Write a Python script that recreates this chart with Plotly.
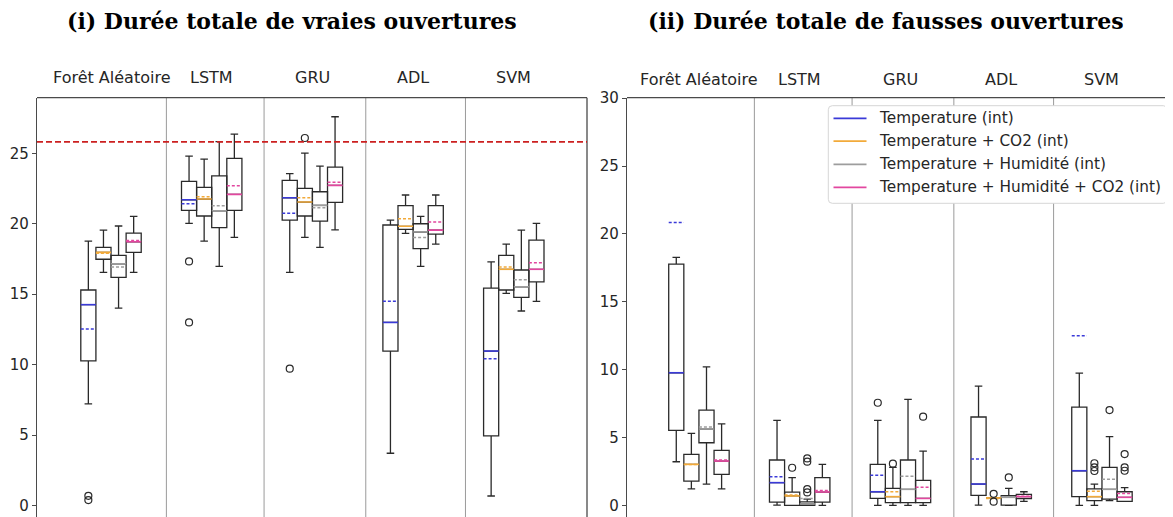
import plotly.graph_objects as go

# ---------------- data ----------------
models = ["Forêt Aléatoire", "LSTM", "GRU", "ADL", "SVM"]
series = ["Temperature (int)", "Temperature + CO2 (int)",
          "Temperature + Humidité (int)", "Temperature + Humidité + CO2 (int)"]
colors = ["#3a3ad8", "#f2aa3a", "#9d9d9d", "#e2479f"]

titles = ["(i) Durée totale de vraies ouvertures", "(ii) Durée totale de fausses ouvertures"]

# Panel (i): rows = models, columns = series
vraies_low = [[7.23, 16.55, 14.02, 16.55], [20.03, 18.77, 16.98, 19.03], [16.55, 19.03, 18.33, 19.57],
              [3.72, 19.32, 16.98, 18.56], [0.69, 15.06, 13.81, 14.5]]
vraies_q1 = [[10.28, 17.48, 16.2, 17.97], [20.95, 20.55, 19.72, 20.95], [20.26, 20.55, 20.19, 21.52],
             [10.97, 19.6, 18.23, 19.27], [4.96, 15.3, 14.78, 15.87]]
vraies_med = [[14.26, 17.97, 17.16, 18.72], [21.7, 21.75, 20.92, 22.08], [21.84, 21.54, 21.3, 22.72],
              [13.0, 19.82, 19.41, 19.55], [10.97, 16.77, 15.53, 16.77]]
vraies_mean = [[12.53, 17.9, 16.93, 18.82], [21.42, 21.92, 21.28, 22.7], [20.74, 21.84, 21.13, 22.94],
               [14.5, 20.35, 19.03, 20.12], [10.43, 16.93, 16.03, 17.23]]
vraies_q3 = [[15.3, 18.33, 17.76, 19.34], [23.0, 22.58, 23.4, 24.64], [23.08, 22.51, 22.27, 24.02],
             [19.91, 21.28, 20.0, 21.28], [15.44, 17.76, 16.72, 18.84]]
vraies_high = [[18.77, 19.55, 19.84, 20.52], [24.8, 24.59, 25.82, 26.36], [23.55, 25.01, 24.09, 27.59],
               [20.26, 22.04, 20.52, 22.04], [17.3, 18.56, 19.55, 20.03]]
vraies_out = [[[0.4, 0.7], [], [], []], [[17.33, 13.0], [], [], []], [[9.72], [26.08], [], []],
              [[], [], [], []], [[], [], [], []]]
vraies_reference = 25.8

# Panel (ii)
fausses_low = [[3.21, 1.22, 1.57, 1.22], [0.02, 0.0, 0.0, 0.0], [0.0, 0.0, 0.0, 0.0],
               [0.02, 0.55, 0.0, 0.29], [0.0, 0.0, 0.34, 0.29]]
fausses_q1 = [[5.52, 1.79, 4.61, 2.28], [0.24, 0.0, 0.0, 0.24], [0.51, 0.2, 0.2, 0.2],
              [0.74, 0.55, 0.02, 0.49], [0.64, 0.34, 0.46, 0.29]]
fausses_med = [[9.77, 3.02, 5.62, 3.26], [1.67, 0.69, 0.1, 0.98], [1.0, 0.64, 1.18, 0.51],
               [1.57, 0.55, 0.59, 0.64], [2.55, 0.64, 1.18, 0.59]]
fausses_mean = [[20.85, 3.0, 5.77, 3.34], [2.11, 0.76, 0.51, 1.1], [2.21, 1.0, 2.14, 1.33],
                [3.41, 0.5, 0.62, 0.66], [12.5, 1.03, 1.92, 0.88]]
fausses_q3 = [[17.78, 3.76, 7.02, 4.05], [3.34, 0.98, 0.25, 2.04], [3.02, 1.25, 3.34, 1.84],
              [6.51, 0.55, 0.71, 0.81], [7.24, 1.22, 2.8, 1.0]]
fausses_high = [[18.28, 5.3, 10.21, 6.01], [6.26, 2.04, 0.45, 3.02], [6.26, 2.8, 7.81, 4.0],
                [8.79, 0.55, 1.25, 1.0], [9.75, 1.57, 5.06, 1.3]]
fausses_out = [[[], [], [], []],
               [[], [2.77], [3.46, 3.22, 1.2, 0.95], []],
               [[7.56], [3.07], [], [6.53]],
               [[], [0.85, 0.27], [2.06], []],
               [[], [3.1, 2.8, 2.53], [7.02], [3.78, 2.8, 2.55]]]

y_ticks_left = [0, 5, 10, 15, 20, 25]
y_ticks_right = [0, 5, 10, 15, 20, 25, 30]

# ---------------- layout constants ----------------
OFF = 8                      # page body margin of the exported html
W, H = 1173 - OFF, 517 - OFF
BOX_W = 0.15
OFFSETS = [-0.225, -0.075, 0.075, 0.225]
DIVIDERS = [1.55, 2.52, 3.53, 4.52]
FRAME = "#4a4a4a"
TXT = "#262626"
TOP_PX = 97.7


def px(x):
    return (x - OFF) / W


def py(y):
    return 1 - (y - OFF) / H


fig = go.Figure()


def add_panel(xa, ya, low, q1, med, mean, q3, high, outs):
    for s in range(4):
        pos = [g + 1 + OFFSETS[s] for g in range(len(models))]
        fig.add_trace(go.Box(
            x=pos, q1=[r[s] for r in q1], median=[r[s] for r in med], q3=[r[s] for r in q3],
            lowerfence=[r[s] for r in low], upperfence=[r[s] for r in high],
            width=BOX_W, whiskerwidth=0.5, boxpoints=False,
            line=dict(color="#2a2a2a", width=1.3), fillcolor="rgba(255,255,255,0)",
            xaxis=xa, yaxis=ya, showlegend=False, hoverinfo="skip"))
    for s in range(4):
        mx, my, ax_, ay_ = [], [], [], []
        ox, oy = [], []
        for g in range(len(models)):
            p = g + 1 + OFFSETS[s]
            mx += [p - BOX_W / 2, p + BOX_W / 2, None]
            my += [med[g][s], med[g][s], None]
            ax_ += [p - BOX_W / 2, p + BOX_W / 2, None]
            ay_ += [mean[g][s], mean[g][s], None]
            for v in outs[g][s]:
                ox.append(p)
                oy.append(v)
        fig.add_trace(go.Scatter(x=mx, y=my, mode="lines", line=dict(color=colors[s], width=1.6),
                                 xaxis=xa, yaxis=ya, showlegend=False, hoverinfo="skip"))
        fig.add_trace(go.Scatter(x=ax_, y=ay_, mode="lines",
                                 line=dict(color=colors[s], width=1.5, dash="3px,2px"),
                                 xaxis=xa, yaxis=ya, showlegend=False, hoverinfo="skip"))
        if ox:
            fig.add_trace(go.Scatter(x=ox, y=oy, mode="markers",
                                     marker=dict(symbol="circle-open", size=7, color="#2a2a2a",
                                                 line=dict(width=1.2)),
                                     xaxis=xa, yaxis=ya, showlegend=False, hoverinfo="skip"))


add_panel("x", "y", vraies_low, vraies_q1, vraies_med, vraies_mean, vraies_q3, vraies_high, vraies_out)
add_panel("x2", "y2", fausses_low, fausses_q1, fausses_med, fausses_mean, fausses_q3, fausses_high, fausses_out)

shapes = []
annotations = []

for xr, yr in [("x", "y"), ("x2", "y2")]:
    for d in DIVIDERS:
        shapes.append(dict(type="line", xref=xr, yref=yr + " domain", x0=d, x1=d, y0=0, y1=1,
                           line=dict(color="#9a9a9a", width=1), layer="below"))
    shapes.append(dict(type="line", xref=xr + " domain", yref=yr + " domain", x0=0, x1=1, y0=1, y1=1,
                       line=dict(color=FRAME, width=1.3)))
shapes.append(dict(type="line", xref="x domain", yref="y domain", x0=1, x1=1, y0=0, y1=1,
                   line=dict(color=FRAME, width=1.3)))
# reference line on panel (i)
shapes.append(dict(type="line", xref="x domain", yref="y", x0=0, x1=1, y0=vraies_reference, y1=vraies_reference,
                   line=dict(color="#cc2020", width=1.8, dash="6px,3px")))

# legend box (custom)
lx0, lx1, ly0, ly1, r = 828.3, 1167.3, 105.7, 203.3, 4
path = (f"M {px(lx0 + r)} {py(ly0)} L {px(lx1 - r)} {py(ly0)} Q {px(lx1)} {py(ly0)} {px(lx1)} {py(ly0 + r)} "
        f"L {px(lx1)} {py(ly1 - r)} Q {px(lx1)} {py(ly1)} {px(lx1 - r)} {py(ly1)} "
        f"L {px(lx0 + r)} {py(ly1)} Q {px(lx0)} {py(ly1)} {px(lx0)} {py(ly1 - r)} "
        f"L {px(lx0)} {py(ly0 + r)} Q {px(lx0)} {py(ly0)} {px(lx0 + r)} {py(ly0)} Z")
shapes.append(dict(type="path", xref="paper", yref="paper", path=path,
                   fillcolor="white", line=dict(color="#d6d6d6", width=1)))
rows_y = [118.3, 141.2, 164.3, 187.3]
for s in range(4):
    shapes.append(dict(type="line", xref="paper", yref="paper", x0=px(833.5), x1=px(866.5),
                       y0=py(rows_y[s]), y1=py(rows_y[s]), line=dict(color=colors[s], width=1.8)))
    annotations.append(dict(xref="paper", yref="paper", x=px(876.5), y=py(rows_y[s]), text=series[s],
                            showarrow=False, xanchor="left", yanchor="middle",
                            font=dict(family="DejaVu Sans", size=15.3, color=TXT)))

# group labels
for g, m in enumerate(models):
    for xr, ypx in [("x", 77.5), ("x2", 79.5)]:
        annotations.append(dict(xref=xr, yref="paper", x=g + 1, y=py(ypx), text=m, showarrow=False,
                                xanchor="center", yanchor="middle",
                                font=dict(family="DejaVu Sans", size=16, color=TXT)))

# titles
for t, cx in zip(titles, [292, 886]):
    annotations.append(dict(xref="paper", yref="paper", x=px(cx), y=py(21), text="<b>" + t + "</b>",
                            showarrow=False, xanchor="center", yanchor="middle", height=24,
                            font=dict(family="DejaVu Serif", size=22, color="black")))

ydom = [0, py(TOP_PX)]
axis_common = dict(showgrid=False, zeroline=False)
tick_font = dict(family="DejaVu Sans", size=15, color=TXT)
fig.update_layout(
    width=W, height=H, margin=dict(l=0, r=0, t=0, b=0),
    paper_bgcolor="white", plot_bgcolor="white", boxmode="overlay",
    xaxis=dict(domain=[px(37), px(587)], range=[0.265, 5.727], showticklabels=False, ticks="",
               showline=False, **axis_common),
    yaxis=dict(domain=ydom, range=[-0.80, 28.94], tickvals=y_ticks_left, ticks="outside", ticklen=4,
               tickcolor=FRAME, showline=True, linecolor=FRAME, linewidth=1.3, anchor="x",
               tickfont=tick_font, automargin=False, **axis_common),
    xaxis2=dict(domain=[px(627), 1.0], range=[0.286, 5.705], showticklabels=False, ticks="",
                showline=False, anchor="y2", **axis_common),
    yaxis2=dict(domain=ydom, range=[-0.86, 30.04], tickvals=y_ticks_right, ticks="outside", ticklen=4,
                tickcolor=FRAME, showline=True, linecolor=FRAME, linewidth=1.3, anchor="x2",
                tickfont=tick_font, automargin=False, **axis_common),
    shapes=shapes, annotations=annotations,
)

fig.write_html("out.html")
